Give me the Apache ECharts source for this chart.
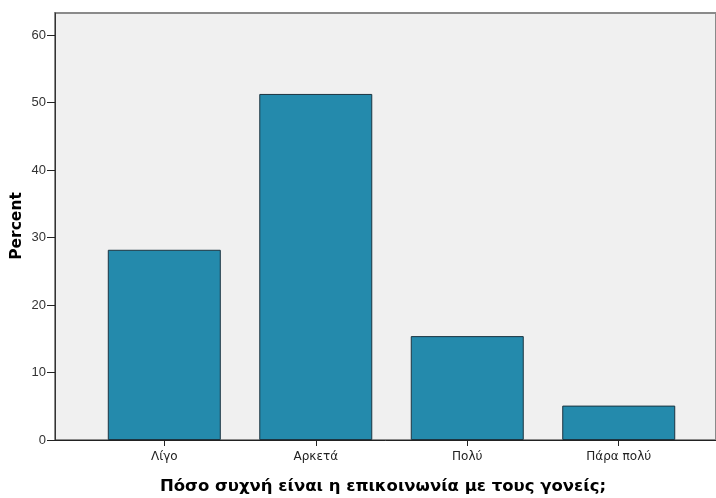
<!DOCTYPE html>
<html>
<head>
<meta charset="utf-8">
<script src="https://cdn.jsdelivr.net/npm/echarts@6/dist/echarts.min.js"></script>
<style>html,body{margin:0;padding:0;background:#fff}#c{width:716px;height:498px}</style>
</head>
<body>
<div id="c"></div>
<script>
const categories = ["Λίγο", "Αρκετά", "Πολύ", "Πάρα πολύ"];
const percentValues = [28.2, 51.3, 15.4, 5.1];
const yTicks = [0, 10, 20, 30, 40, 50, 60];
const xTitle = "Πόσο συχνή είναι η επικοινωνία με τους γονείς;";
const yTitle = "Percent";

const chart = echarts.init(document.getElementById('c'));
const font = "'DejaVu Sans', sans-serif";
const numFont = "'Liberation Sans', Arial, sans-serif";
chart.setOption({
  animation: false,
  grid: {left: 55, top: 13, right: 0, bottom: 58, show: true, outerBoundsMode: 'none', containLabel: false,
    backgroundColor: '#f0f0f0', borderColor: '#8a8a8a', borderWidth: 2},
  xAxis: {
    type: 'value', min: -0.7215, max: 3.642,
    axisLine: {show: true, onZero: false, lineStyle: {color: '#222', width: 1}},
    axisTick: {show: true, length: 6, customValues: categories.map((c, i) => i), lineStyle: {color: '#222'}},
    axisLabel: {customValues: categories.map((c, i) => i), formatter: v => categories[Math.round(v)] || '',
      fontSize: 12, color: '#222', margin: 11, fontFamily: font},
    splitLine: {show: false}
  },
  yAxis: {
    type: 'value', min: 0, max: 63.3,
    axisLine: {show: true, onZero: false, lineStyle: {color: '#333', width: 1}},
    axisTick: {show: true, length: 8, customValues: yTicks, lineStyle: {color: '#222'}},
    axisLabel: {customValues: yTicks, fontSize: 13, color: '#333', margin: 9, fontFamily: numFont},
    splitLine: {show: false}
  },
  series: [{
    type: 'bar', barWidth: 113,
    data: percentValues.map((v, i) => [i, v]),
    itemStyle: {color: '#248aac', borderColor: '#1c3440', borderWidth: 1}
  }],
  graphic: [{
    type: 'text', x: 383, y: 487,
    style: {text: xTitle, fontSize: 16.5, fontWeight: 'bold', fill: '#000', fontFamily: font,
      textAlign: 'center', textVerticalAlign: 'middle'}
  }, {
    type: 'text', x: 17, y: 226, rotation: Math.PI / 2,
    style: {text: yTitle, fontSize: 15.5, fontWeight: 'bold', fill: '#000', fontFamily: font,
      textAlign: 'center', textVerticalAlign: 'middle'}
  }]
});
</script>
</body>
</html>
